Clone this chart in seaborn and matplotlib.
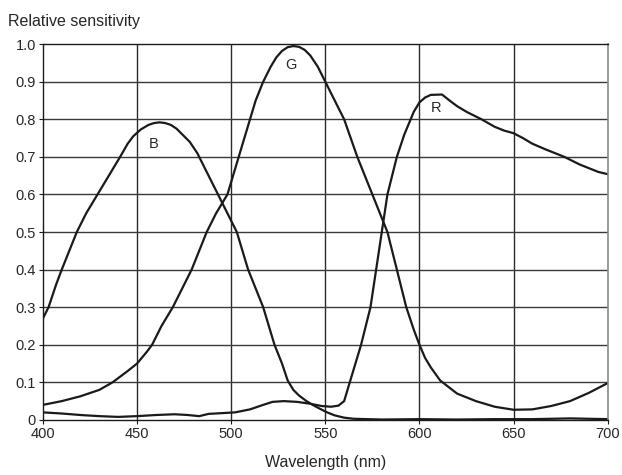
import pandas as pd
import matplotlib.pyplot as plt
import seaborn as sns


# Data

b_nm = [400, 403, 407, 410, 414, 418, 423, 429, 435, 441, 445, 448, 452, 456,
        459, 462, 465, 468, 471, 474, 478, 482, 485, 489, 493, 498, 503, 509,
        517, 523, 527, 530, 533, 536, 540, 544, 547, 551, 555, 560, 565, 580,
        600, 620, 640, 660, 680, 700]
b_val = [0.27, 0.30, 0.36, 0.40, 0.45, 0.50, 0.55, 0.60, 0.65, 0.70, 0.735,
         0.755, 0.773, 0.785, 0.79, 0.792, 0.79, 0.785, 0.775, 0.76, 0.74, 0.71,
         0.68, 0.64, 0.60, 0.55, 0.50, 0.40, 0.30, 0.20, 0.15, 0.105, 0.08,
         0.065, 0.05, 0.038, 0.03, 0.02, 0.012, 0.006, 0.003, 0.001, 0.002,
         0.001, 0.002, 0.002, 0.004, 0.002]

g_nm = [400, 410, 420, 430, 437, 445, 450, 455, 458, 463, 469, 474, 479, 483,
        487, 492, 498, 501, 504, 507, 510, 513, 517, 521, 524, 527, 530, 533,
        536, 539, 542, 546, 550, 555, 560, 567, 575, 583, 588, 593, 597, 600,
        603, 606, 611, 620, 630, 640, 650, 660, 670, 680, 690, 700]
g_val = [0.04, 0.05, 0.063, 0.08, 0.10, 0.13, 0.15, 0.18, 0.20, 0.25, 0.30, 0.35,
         0.40, 0.45, 0.50, 0.55, 0.60, 0.65, 0.70, 0.75, 0.80, 0.85, 0.90, 0.94,
         0.965, 0.982, 0.992, 0.995, 0.993, 0.985, 0.97, 0.94, 0.90, 0.85, 0.80,
         0.70, 0.60, 0.50, 0.40, 0.30, 0.24, 0.20, 0.165, 0.14, 0.105, 0.07,
         0.05, 0.035, 0.027, 0.028, 0.037, 0.05, 0.072, 0.098]

r_nm = [400, 410, 420, 430, 440, 450, 460, 470, 477, 483, 488, 495, 502, 510,
        517, 522, 528, 535, 542, 548, 553, 557, 560, 563, 569, 574, 577, 580,
        583, 588, 592, 597, 600, 603, 606, 612, 616, 620, 625, 633, 640, 645,
        650, 655, 660, 667, 677, 685, 690, 695, 700]
r_val = [0.02, 0.017, 0.013, 0.01, 0.008, 0.01, 0.013, 0.015, 0.013, 0.01, 0.016,
         0.018, 0.02, 0.028, 0.04, 0.048, 0.05, 0.048, 0.043, 0.037, 0.035, 0.038,
         0.05, 0.10, 0.20, 0.30, 0.40, 0.50, 0.60, 0.70, 0.76, 0.82, 0.845, 0.858,
         0.865, 0.866, 0.85, 0.835, 0.82, 0.80, 0.78, 0.77, 0.763, 0.75, 0.735,
         0.72, 0.70, 0.68, 0.67, 0.66, 0.654]

x_ticks = [400, 450, 500, 550, 600, 650, 700]
y_ticks = [0, 0.1, 0.2, 0.3, 0.4, 0.5, 0.6, 0.7, 0.8, 0.9, 1.0]
y_labels = ["0", "0.1", "0.2", "0.3", "0.4", "0.5", "0.6", "0.7", "0.8", "0.9", "1.0"]


# Long-form table

df = pd.concat([
    pd.DataFrame({"nm": b_nm, "val": b_val, "band": "B"}),
    pd.DataFrame({"nm": g_nm, "val": g_val, "band": "G"}),
    pd.DataFrame({"nm": r_nm, "val": r_val, "band": "R"}),
])


# Plot

sns.set_style("white")
plt.rcParams["font.family"] = ["Liberation Sans", "DejaVu Sans"]

fig = plt.figure(figsize=(6.22, 4.75), dpi=100)
ax = fig.add_axes([0.069, 0.116, 0.908, 0.791])

sns.lineplot(
    data=df,
    x="nm",
    y="val",
    units="band",
    estimator=None,
    color="#1a1a1a",
    linewidth=1.6,
    ax=ax
)

ax.set_xlim(400, 700)
ax.set_ylim(0, 1.0)
ax.set_xticks(x_ticks)
ax.set_yticks(y_ticks)
ax.set_yticklabels(y_labels)
ax.tick_params(labelsize=10.5, length=3, color="#1a1a1a", direction="out",
               bottom=True, left=True, pad=2)

for x in x_ticks[1:-1]:
    ax.axvline(x, color="#2a2a2a", linewidth=1, zorder=0)
for y in y_ticks[1:-1]:
    ax.axhline(y, color="#3a3a3a", linewidth=1, zorder=0)

for side in ["left", "bottom", "top"]:
    ax.spines[side].set_color("#1a1a1a")
    ax.spines[side].set_linewidth(1)
ax.spines["right"].set_color("#888888")
ax.spines["right"].set_linewidth(1.2)

ax.set_xlabel("Wavelength (nm)", fontsize=11.5, labelpad=10)
ax.set_ylabel("")

fig.text(0.013, 0.955, "Relative sensitivity", fontsize=11.5, va="center")

ax.text(459, 0.735, "B", fontsize=10.5, ha="center", va="center")
ax.text(532, 0.945, "G", fontsize=10.5, ha="center", va="center")
ax.text(609, 0.83, "R", fontsize=10.5, ha="center", va="center")

plt.savefig("out.png", dpi=100)
